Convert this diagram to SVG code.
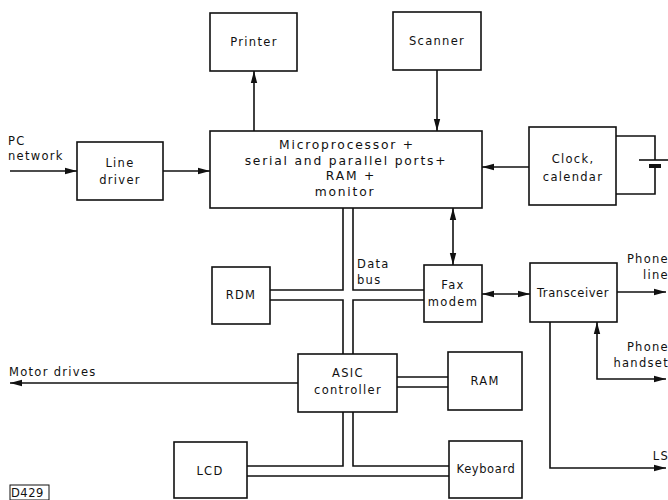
<svg xmlns="http://www.w3.org/2000/svg" width="668" height="500" viewBox="0 0 668 500">
<style>
.box{fill:#fff;stroke:#111;stroke-width:1.6}
.ln{fill:none;stroke:#111;stroke-width:1.6}
text{font-family:"DejaVu Sans","Liberation Sans",sans-serif;font-size:11.5px;fill:#111;letter-spacing:1.3px}
.c{text-anchor:middle}
.r{text-anchor:end}
.m{font-size:12.3px;letter-spacing:1.8px}
</style>
<defs>
<marker id="ah" viewBox="0 0 12 8" refX="12" refY="4" markerWidth="12" markerHeight="8" markerUnits="userSpaceOnUse" orient="auto-start-reverse">
<path d="M0,0.8 L12,4 L0,7.2 Z" fill="#111"/>
</marker>
</defs>
<rect width="668" height="500" fill="#fff"/>
<g id="connectors">
<path class="ln" d="M254,131 V71" marker-end="url(#ah)"/>
<path class="ln" d="M437,70 V131" marker-end="url(#ah)"/>
<path class="ln" d="M10,171 H77" marker-end="url(#ah)"/>
<path class="ln" d="M163,171 H210" marker-end="url(#ah)"/>
<path class="ln" d="M529,167 H482" marker-end="url(#ah)"/>
<path class="ln" d="M616,136 H655 V160 M616,194 H655 V167"/>
<path class="ln" d="M639,160 H668"/>
<rect x="649" y="164" width="12" height="4" fill="#111"/>
<path class="ln" d="M453,208 V265" marker-start="url(#ah)" marker-end="url(#ah)"/>
<path class="ln" d="M482,294 H530" marker-start="url(#ah)" marker-end="url(#ah)"/>
<path class="ln" d="M617,292 H666" marker-end="url(#ah)"/>
<path class="ln" d="M597,322 V379 H666" marker-start="url(#ah)" marker-end="url(#ah)"/>
<path class="ln" d="M550,322 V468 H666" marker-end="url(#ah)"/>
<path class="ln" d="M298,383 H10" marker-end="url(#ah)"/>
<path class="ln" d="M343,208 V290 H270 M270,300 H343 V354"/>
<path class="ln" d="M353,208 V290 H424 M424,300 H353 V354"/>
<path class="ln" d="M397,377 H448 M397,387 H448"/>
<path class="ln" d="M343,412 V466 H247 M247,476 H449"/>
<path class="ln" d="M353,412 V466 H449"/>
</g>
<g id="printer"><rect class="box" x="210" y="13" width="87" height="58"/><text class="c" x="254" y="46">Printer</text></g>
<g id="scanner"><rect class="box" x="393" y="12" width="88" height="58"/><text class="c" x="437" y="45">Scanner</text></g>
<g id="micro"><rect class="box" x="210" y="131" width="272" height="77"/>
<text class="c m" x="347" y="149">Microprocessor +</text>
<text class="c m" x="346" y="165">serial and parallel ports+</text>
<text class="c m" x="351" y="180">RAM +</text>
<text class="c m" x="345" y="196">monitor</text></g>
<g id="linedriver"><rect class="box" x="77" y="142" width="86" height="58"/><text class="c" x="120" y="167">Line</text><text class="c" x="120" y="184">driver</text></g>
<g id="clock"><rect class="box" x="529" y="127" width="87" height="78"/><text class="c" x="573" y="163">Clock,</text><text class="c" x="573" y="181">calendar</text></g>
<g id="rom"><rect class="box" x="212" y="267" width="58" height="57"/><text class="c" x="241" y="299">RDM</text></g>
<g id="fax"><rect class="box" x="424" y="265" width="58" height="57"/><text class="c" x="453" y="289">Fax</text><text class="c" x="453" y="306">modem</text></g>
<g id="transceiver"><rect class="box" x="530" y="263" width="87" height="59"/><text class="c" x="573" y="297" style="letter-spacing:0.6px">Transceiver</text></g>
<g id="asic"><rect class="box" x="298" y="354" width="99" height="58"/><text class="c" x="348" y="377">ASIC</text><text class="c" x="348" y="394">controller</text></g>
<g id="ram"><rect class="box" x="448" y="352" width="74" height="58"/><text class="c" x="485" y="385">RAM</text></g>
<g id="lcd"><rect class="box" x="174" y="442" width="73" height="56"/><text class="c" x="210" y="475">LCD</text></g>
<g id="keyboard"><rect class="box" x="449" y="441" width="73" height="57"/><text class="c" x="486" y="473" style="letter-spacing:0.6px">Keyboard</text></g>
<g id="labels">
<text x="8" y="145">PC</text>
<text x="8" y="160">network</text>
<text x="357" y="268">Data</text>
<text x="357" y="284">bus</text>
<text x="9" y="376">Motor drives</text>
<text class="r" x="669" y="263">Phone</text>
<text class="r" x="669" y="279">line</text>
<text class="r" x="669" y="351">Phone</text>
<text class="r" x="669" y="367">handset</text>
<text class="r" x="669" y="460">LS</text>
<rect x="10" y="485" width="39" height="15" fill="none" stroke="#111" stroke-width="1"/>
<text x="11" y="497" style="letter-spacing:0.5px">D429</text>
</g>
</svg>
